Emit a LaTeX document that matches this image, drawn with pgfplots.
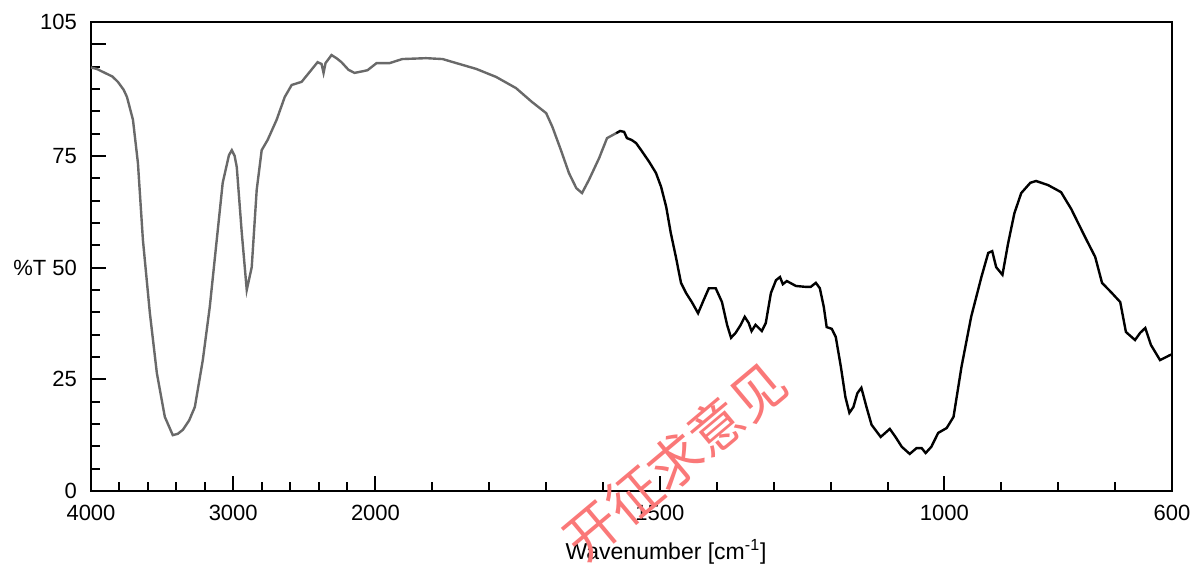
\documentclass[border=0pt]{standalone}
\usepackage{pgfplots}
\usepackage{pgfplotstable}
\pgfplotsset{compat=1.18}
\usepackage{fontspec}
\setmainfont{Liberation Sans}
\newfontfamily\cjk{Noto Sans CJK SC}
\definecolor{specgray}{RGB}{105,105,105}
\definecolor{wmred}{RGB}{250,120,120}

% spectrum, gray part (4000 - 1580)
\pgfplotstableread{
wn T
4000 94.8
3960 94.5
3902 93.6
3850 92.8
3811 91.6
3770 89.8
3747 88.2
3705 83.1
3670 73.4
3635 56.2
3586 39.8
3537 26.4
3481 16.6
3425 12.5
3390 12.8
3354 13.7
3310 15.8
3270 18.8
3214 29.3
3165 41.2
3116 56.2
3074 69.0
3030 75.2
3010 76.3
2990 75.0
2975 72.5
2940 57.8
2905 45.0
2870 50.1
2835 67.4
2800 76.3
2758 78.6
2695 83.1
2638 88.2
2589 90.9
2519 91.6
2463 93.8
2407 96.0
2379 95.6
2365 93.6
2351 95.8
2309 97.6
2270 96.8
2239 96.0
2190 94.3
2147 93.6
2100 93.9
2056 94.2
1998 95.8
1975 95.8
1953 96.7
1911 96.9
1882 96.7
1858 95.8
1823 94.5
1788 92.7
1753 90.2
1725 87.1
1700 84.6
1689 81.5
1674 76.3
1660 71.2
1647 67.8
1637 66.7
1625 69.6
1607 74.5
1593 79.0
1577 80.1
}\graypart

% spectrum, black part (1580 - 600)
\pgfplotstableread{
wn T
1577 80.1
1570 80.6
1563 80.4
1558 79.0
1550 78.6
1542 77.9
1533 76.3
1519 73.7
1507 71.2
1498 68.1
1489 63.6
1481 57.8
1472 52.4
1463 46.6
1454 44.3
1444 42.3
1433 39.8
1423 42.8
1414 45.4
1402 45.4
1391 42.3
1382 37.2
1375 34.3
1367 35.4
1358 37.2
1351 39.0
1344 37.6
1339 35.8
1332 37.2
1321 35.8
1314 37.6
1305 44.3
1296 47.2
1289 47.9
1284 46.3
1277 47.0
1261 45.9
1244 45.7
1235 45.7
1226 46.6
1219 45.4
1212 41.2
1207 36.7
1198 36.3
1191 34.5
1182 27.8
1174 21.0
1167 17.5
1160 18.8
1153 21.9
1146 23.1
1137 18.8
1128 14.8
1112 12.1
1096 13.9
1086 12.1
1075 9.9
1061 8.3
1049 9.6
1040 9.6
1033 8.5
1023 9.9
1011 13.0
996 14.1
984 16.6
970 27.8
953 39.0
935 47.9
923 53.3
916 53.7
909 50.1
898 48.4
888 55.5
877 62.2
865 66.7
849 69.0
839 69.4
818 68.5
795 66.9
777 63.1
753 56.9
735 52.4
723 46.6
707 44.5
691 42.3
681 35.6
665 33.8
656 35.4
647 36.5
637 32.7
621 29.3
610 30.0
604 30.4
600 30.6
}\blackpart

\begin{document}
\begin{tikzpicture}
\begin{axis}[
    scale only axis,
    width=540.5pt,
    height=234.5pt,
    xmin=0, xmax=1900,
    ymin=0, ymax=105,
    axis line style={line width=1.1pt},
    xtick={0,250,500,1000,1500,1900},
    xticklabels={4000,3000,2000,1500,1000,600},
    minor xtick={50,100,150,200,300,350,400,450,600,700,800,900,1100,1200,1300,1400,1600,1700,1800},
    ytick={0,25,50,75,100,105},
    yticklabels={0,25,{\%T 50},75,,105},
    minor ytick={5,10,15,20,30,35,40,45,55,60,65,70,80,85,90,95},
    xtick pos=bottom, ytick pos=left,
    tick align=inside,
    major tick length=7.5pt,
    minor tick length=4.5pt,
    tick style={line width=1pt, black},
    ticklabel style={font=\fontsize{11}{13}\selectfont},
    xticklabel style={yshift=-3.5pt},
    yticklabel style={xshift=-3.5pt},
    xlabel={Wavenumber [cm\textsuperscript{-1}]},
    xlabel style={at={(axis description cs:0.532,-0.13)}, anchor=center, font=\fontsize{11.5}{13}\selectfont},
]
\addplot[specgray, line width=1.2pt] table[x expr={\thisrow{wn}>=2000 ? (4000-\thisrow{wn})/4 : 2500-\thisrow{wn}}, y=T] {\graypart};
\addplot[black, line width=1.2pt] table[x expr={\thisrow{wn}>=2000 ? (4000-\thisrow{wn})/4 : 2500-\thisrow{wn}}, y=T] {\blackpart};
\end{axis}
% watermark
\node[rotate=40, text=wmred, font=\cjk\fontsize{27}{27}\selectfont] at (292pt,15pt) {开征求意见};
\pgfresetboundingbox
\path[use as bounding box] (-45.5pt,-37.5pt) rectangle (551.5pt,245.5pt);
\end{tikzpicture}
\end{document}
